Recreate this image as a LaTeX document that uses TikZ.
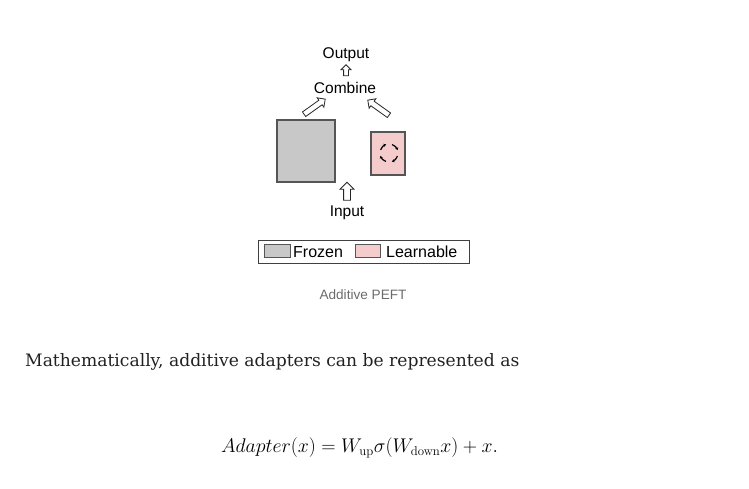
\documentclass[tikz,border=0pt]{standalone}
\usepackage{amsmath}
\usepackage{fontspec}
\usepackage{tikz}
\usetikzlibrary{shapes.arrows,arrows.meta}
\newfontfamily\diagfont{Liberation Sans}
\newfontfamily\bodyfont{DejaVu Serif}
\definecolor{frozengray}{HTML}{C8C8C8}
\definecolor{learnpink}{HTML}{F4CCCC}
\definecolor{edgegray}{HTML}{555555}
\definecolor{captiongray}{HTML}{6B6B6B}
\tikzset{
  label/.style={font=\diagfont\fontsize{15.5}{18}\selectfont, inner sep=0pt},
  blockarrow/.style={single arrow, draw=black!85, fill=white, line width=0.8pt,
    inner sep=2pt, single arrow head extend=2.5pt, minimum height=#1},
  swatch/.style={draw=edgegray, line width=0.9pt}
}
\begin{document}
\begin{tikzpicture}[x=1pt,y=-1pt]
				\useasboundingbox (0,0) rectangle (749,488);
				% top part
				\draw (346,55) node[label] (out) {Output};
				\draw (346,71.5) node[blockarrow=11pt, rotate=90] (outarrow) {};
				\draw (345,88) node[label] (comb) {Combine};
				\draw (313.5,107.5) node[blockarrow=26pt, rotate=35.5, inner sep=2.4pt, single arrow head extend=3pt] (leftarrow) {};
				\draw (379.5,108.5) node[blockarrow=26pt, rotate=144.5, inner sep=2.4pt, single arrow head extend=3pt] (rightarrow) {};
				% the two blocks
				\draw[swatch, fill=frozengray, line width=1.3pt] (277,120) rectangle (335,182);
				\coordinate (frozen) at (306,151);
				\draw[swatch, fill=learnpink, line width=1.1pt] (371,132) rectangle (405,175);
				\coordinate (learn) at (388,153.5);
				\foreach \a in {0,90,180,270}
					\draw[line width=1.2pt, -{Stealth[length=2.8pt,width=3.2pt]}] ([shift={(\a+20:9)}]389,153) arc[start angle=\a+20, end angle=\a+72, radius=9];
				% input
				\draw (347,193) node[blockarrow=18pt, rotate=90, inner sep=3pt, single arrow head extend=3.5pt] (inarrow) {};
				\draw (347,213) node[label] (inp) {Input};
				% legend
				\draw[draw=black!75, line width=0.9pt] (258,240) rectangle (469,263);
				\draw[swatch, fill=frozengray] (264,244) rectangle (290,257);
				\draw (293,257) node[label, anchor=base west, font=\diagfont\fontsize{16}{18}\selectfont] (frozentext) {Frozen};
				\draw[swatch, fill=learnpink] (355,244) rectangle (380,257);
				\draw (386,257) node[label, anchor=base west, font=\diagfont\fontsize{16}{18}\selectfont] (learntext) {Learnable};
				% caption and text below
				\draw (363,295) node[font=\diagfont\fontsize{13.6}{16}\selectfont, text=captiongray] (caption) {Additive PEFT};
				\draw (25,362) node[anchor=west, inner sep=0pt, font=\bodyfont\fontsize{17.15}{22}\selectfont, text=black!87] (body) {Mathematically, additive adapters can be represented as};
				\draw (359.5,448) node[font=\fontsize{19.2}{22}\selectfont] (formula) {\scalebox{0.955}{$Adapter(x) = W_{\text{up}}\sigma(W_{\text{down}}x) + x.$}};
\end{tikzpicture}
\end{document}
